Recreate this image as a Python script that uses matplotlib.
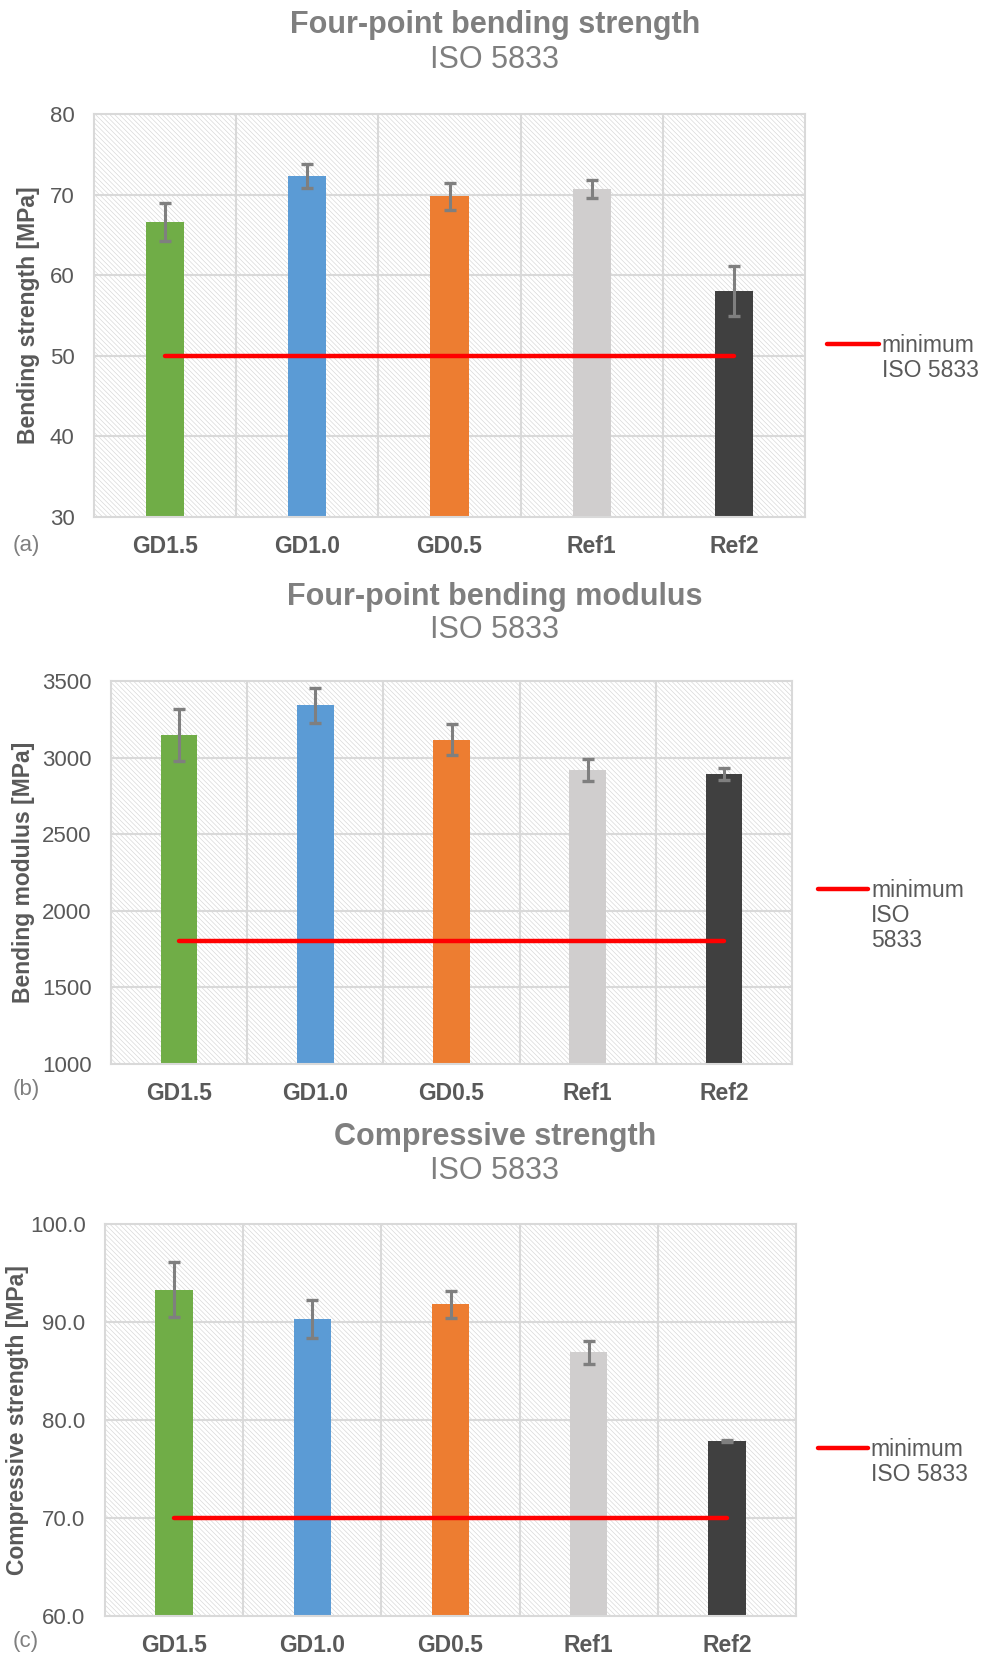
import numpy as np
import matplotlib
matplotlib.use("Agg")
import matplotlib.pyplot as plt
from matplotlib.lines import Line2D
from matplotlib.patches import Rectangle
from matplotlib.transforms import ScaledTranslation

plt.rcParams["font.family"] = ["Liberation Sans", "DejaVu Sans"]
plt.rcParams["hatch.linewidth"] = 0.45

categories = ["GD1.5", "GD1.0", "GD0.5", "Ref1", "Ref2"]
bar_colors = ["#70AD47", "#5B9BD5", "#ED7D31", "#D0CECE", "#404040"]

bend_strength = [66.6, 72.3, 69.8, 70.7, 58.0]
bend_strength_err = [2.35, 1.5, 1.7, 1.15, 3.1]
bend_strength_min = 50

bend_modulus = [3146, 3341, 3118, 2918, 2893]
bend_modulus_err = [168, 115, 100, 70, 40]
bend_modulus_min = 1800

comp_strength = [93.3, 90.3, 91.8, 86.9, 77.9]
comp_strength_err = [2.8, 1.95, 1.4, 1.2, 0.1]
comp_strength_min = 70

TITLE_GRAY = "#7F7F7F"
TEXT_GRAY = "#595959"
GRID = "#D9D9D9"

fig = plt.figure(figsize=(9.9, 16.57), dpi=100)


def panel(rect, values, errs, minimum, ylim, yticks, fmt, ylabel, ylabel_x,
          title, title_y, sub_y, tag, legend_pos, legend_text):
    ax = fig.add_axes(rect)
    x = np.arange(len(categories))
    ax.set_xlim(-0.5, len(categories) - 0.5)
    ax.set_ylim(*ylim)

    # hatched plot background
    ax.add_patch(Rectangle((0, 0), 1, 1, transform=ax.transAxes, facecolor="white",
                           edgecolor="#D6D6D6", hatch="\\" * 7, linewidth=0, zorder=0))

    for v in x[:-1] + 0.5:
        ax.axvline(v, color=GRID, lw=1.5, zorder=1)
    for t in yticks[1:-1]:
        ax.axhline(t, color=GRID, lw=1.5, zorder=1)
    for s in ax.spines.values():
        s.set_color(GRID)
        s.set_linewidth(1.5)

    base = ylim[0]
    ax.bar(x, np.array(values) - base, bottom=base, width=0.27, color=bar_colors, zorder=2)
    ax.errorbar(x, values, yerr=errs, fmt="none", ecolor="#7F7F7F", elinewidth=2.2,
                capsize=4.5, capthick=2.4, zorder=3)
    ax.plot([x[0], x[-1]], [minimum, minimum], color="#FF0000", lw=3.2,
            solid_capstyle="round", zorder=4)

    ax.set_yticks(yticks)
    ax.set_yticklabels([fmt.format(t) for t in yticks])
    ax.set_xticks(x)
    ax.set_xticklabels(categories, fontweight="bold")
    ax.tick_params(axis="y", length=0, pad=14, labelsize=16, labelcolor=TEXT_GRAY)
    ax.tick_params(axis="x", length=0, pad=13, labelsize=16.5, labelcolor=TEXT_GRAY)

    ax.set_ylabel(ylabel, fontsize=16.5, fontweight="bold", color=TEXT_GRAY)
    ax.yaxis.set_label_coords(ylabel_x / 990, rect[1] + rect[3] / 2, transform=fig.transFigure)

    fig.text(0.5, 1 - title_y / 1657, title, ha="center", va="center", fontsize=22,
             fontweight="bold", color=TITLE_GRAY)
    fig.text(0.5, 1 - sub_y / 1657, "ISO 5833", ha="center", va="center", fontsize=22,
             color=TITLE_GRAY)
    fig.text(13 / 990, 1 - tag[1] / 1657, tag[0], ha="left", va="center", fontsize=16,
             color=TITLE_GRAY)

    lx0, lx1, ly = legend_pos
    ax.add_line(Line2D([lx0, lx1], [ly, ly], transform=ax.transAxes, color="#FF0000",
                       lw=3.2, solid_capstyle="round", clip_on=False))
    off = ScaledTranslation(0, 7.5 / 72, fig.dpi_scale_trans)
    ax.text(lx1 + 0.004, ly, legend_text, transform=ax.transAxes + off, ha="left", va="top",
            fontsize=16.5, color=TEXT_GRAY, linespacing=1.12)
    return ax


panel([94 / 990, 1 - 517 / 1657, 711 / 990, 403 / 1657], bend_strength, bend_strength_err,
      bend_strength_min, (30, 80), [30, 40, 50, 60, 70, 80], "{:d}",
      "Bending strength [MPa]", 40, "Four-point bending strength", 25, 60,
      ("(a)", 545), (1.031, 1.104, 0.429), "minimum\nISO 5833")

panel([111 / 990, 1 - 1064 / 1657, 681 / 990, 383 / 1657], bend_modulus, bend_modulus_err,
      bend_modulus_min, (1000, 3500), [1000, 1500, 2000, 2500, 3000, 3500], "{:d}",
      "Bending modulus [MPa]", 35, "Four-point bending modulus", 597, 630,
      ("(b)", 1089), (1.038, 1.112, 0.457), "minimum\nISO\n5833")

panel([105 / 990, 1 - 1616 / 1657, 691 / 990, 392 / 1657], comp_strength, comp_strength_err,
      comp_strength_min, (60, 100), [60.0, 70.0, 80.0, 90.0, 100.0], "{:.1f}",
      "Compressive strength [MPa]", 29, "Compressive strength", 1137, 1171,
      ("(c)", 1641), (1.032, 1.104, 0.4286), "minimum\nISO 5833")

fig.savefig("out.png", dpi=100)
